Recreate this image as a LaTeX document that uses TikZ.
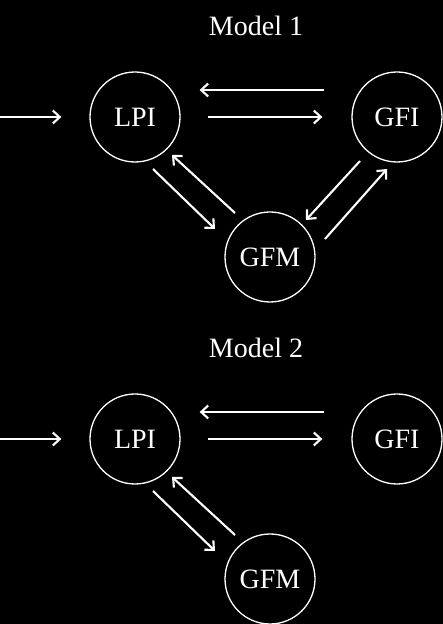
\documentclass[tikz,border=0pt]{standalone}
\usepackage{fontspec}
\setmainfont{Liberation Serif}
\usepackage{ifthen}
\usetikzlibrary{arrows.meta}

\tikzset{
    state/.style={draw=white, circle, line width=1.3pt, minimum size=90pt, inner sep=0pt, text=white},
    flow/.style={draw=white, line width=2.1pt, -{Straight Barb[length=7pt,width=13pt,line width=2.1pt]}},
    title/.style={text=white, inner sep=0pt}
}

\begin{document}
\begin{tikzpicture}[x=1pt, y=1pt, font=\fontsize{28}{32}\selectfont]
\fill[black] (0,0) rectangle (443,624);
\useasboundingbox (0,0) rectangle (443,624);
\foreach \m/\dy in {1/0, 2/-322}
{
    \begin{scope}[yshift=\dy]
    \node[title] (title\m) at (256,598) {Model \m};
    \node[state] (lpi\m) at (135,507) {LPI};
    \node[state] (gfi\m) at (397,507) {GFI};
    \node[state] (gfm\m) at (270,367) {GFM};
    \coordinate (in\m) at (0,507);
    \end{scope}
    \draw[flow, shorten >=28pt] (in\m) -- (lpi\m);
    \draw[flow, shorten <=27pt, shorten >=29pt] (lpi\m) -- (gfi\m);
    \draw[flow, shorten <=27pt, shorten >=19pt] ([yshift=27pt]gfi\m.west) -- ([yshift=27pt]lpi\m.east);
    \draw[flow] ([shift={(18,-52)}]lpi\m.center) -- ([shift={(-55,28)}]gfm\m.center);
    \draw[flow] ([shift={(-35,44)}]gfm\m.center) -- ([shift={(37,-38)}]lpi\m.center);
    \ifthenelse{\equal{\m}{1}}{
    \draw[flow] ([shift={(-37,-44)}]gfi\m.center) -- ([shift={(36,37)}]gfm\m.center);
    \draw[flow] ([shift={(55,18)}]gfm\m.center) -- ([shift={(-10,-52)}]gfi\m.center);
    }{}
}
\end{tikzpicture}
\end{document}
